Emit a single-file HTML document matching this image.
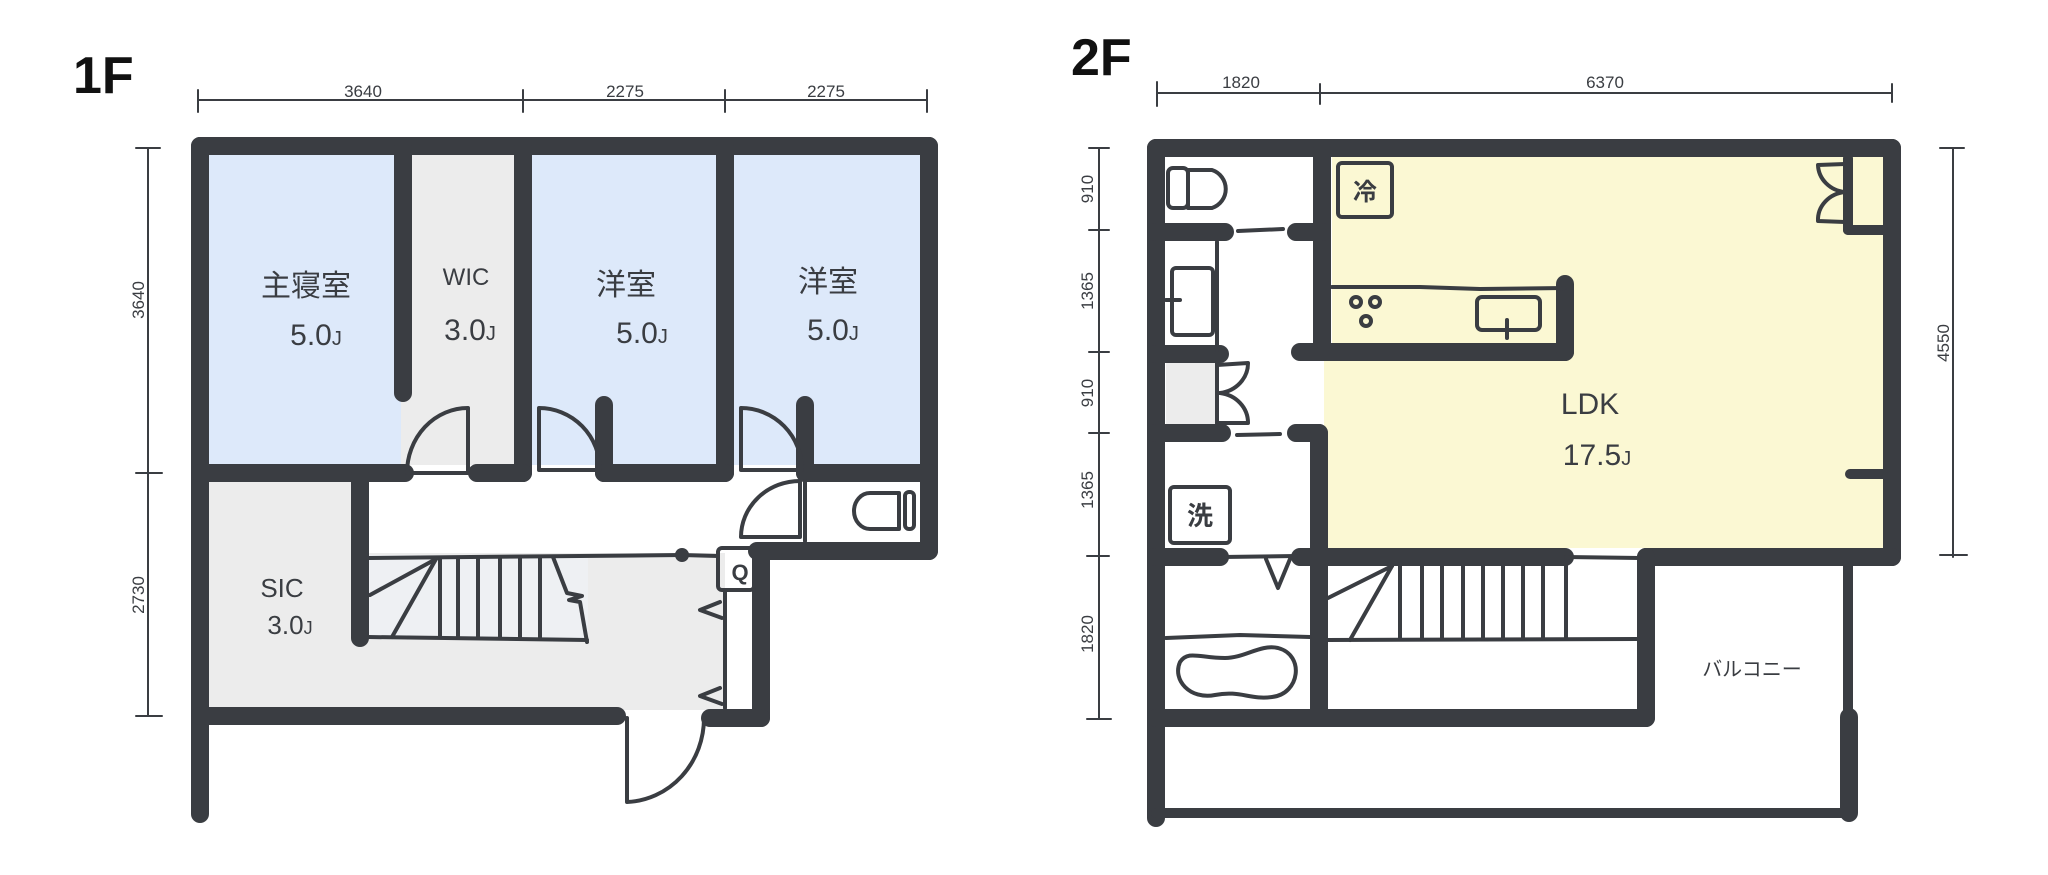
<!DOCTYPE html>
<html><head><meta charset="utf-8"><style>
html,body{margin:0;padding:0;background:#fff;}
svg{display:block;}
text{font-family:"Liberation Sans","Noto Sans CJK JP",sans-serif;fill:#3a3d42;}
</style></head><body>
<svg width="2048" height="875" viewBox="0 0 2048 875" xmlns="http://www.w3.org/2000/svg">
<!-- ===== 1F fills ===== -->
<rect x="209" y="155" width="192" height="310" fill="#dde9fa"/>
<rect x="401" y="155" width="113" height="310" fill="#ececec"/>
<rect x="532" y="155" width="184" height="310" fill="#dde9fa"/>
<rect x="734" y="155" width="186" height="310" fill="#dde9fa"/>
<rect x="209" y="482" width="145" height="228" fill="#ececec"/>
<rect x="354" y="553" width="371" height="157" fill="#ececec"/>
<rect x="368" y="555" width="220" height="84" fill="#eef0f3"/>
<rect x="725" y="598" width="30" height="112" fill="#fff"/>

<g stroke="#3a3d42" fill="none" stroke-linecap="round" stroke-linejoin="round">
<!-- dimension lines 1F -->
<g stroke-width="2">
<line x1="198" y1="100" x2="927" y2="100"/>
<line x1="198" y1="90" x2="198" y2="112"/><line x1="523" y1="90" x2="523" y2="112"/>
<line x1="725" y1="90" x2="725" y2="112"/><line x1="927" y1="90" x2="927" y2="112"/>
<line x1="148" y1="148" x2="148" y2="716"/>
<line x1="136" y1="148" x2="160" y2="148"/><line x1="136" y1="473" x2="162" y2="473"/><line x1="136" y1="716" x2="162" y2="716"/>
</g>
<!-- walls 1F -->
<g stroke-width="18">
<line x1="200" y1="146" x2="929" y2="146"/>
<line x1="200" y1="146" x2="200" y2="814"/>
<line x1="929" y1="146" x2="929" y2="551"/>
<line x1="403" y1="146" x2="403" y2="393"/>
<line x1="523" y1="146" x2="523" y2="473"/>
<line x1="725" y1="146" x2="725" y2="473"/>
<line x1="200" y1="473" x2="405" y2="473"/>
<line x1="477" y1="473" x2="523" y2="473"/>
<line x1="604" y1="405" x2="604" y2="473"/>
<line x1="604" y1="473" x2="725" y2="473"/>
<line x1="805" y1="405" x2="805" y2="473"/>
<line x1="805" y1="473" x2="929" y2="473"/>
<line x1="360" y1="473" x2="360" y2="638"/>
<line x1="757" y1="551" x2="929" y2="551"/>
<line x1="761" y1="551" x2="761" y2="718"/>
<line x1="200" y1="716" x2="617" y2="716"/>
<line x1="710" y1="718" x2="761" y2="718"/>
</g>
<!-- doors 1F -->
<g stroke-width="4">
<path d="M468 408 L468 473 L407 473 A61 65 0 0 1 468 408"/>
<path d="M539 408 L539 470 L600 470 A61 62 0 0 0 539 408"/>
<path d="M741 408 L741 470 L802 470 A61 62 0 0 0 741 408"/>
<path d="M800 481 L800 537 L741 537 A59 56 0 0 1 800 481"/>
<line x1="805" y1="481" x2="805" y2="541"/>
<path d="M627 718 L627 802 A80 84 0 0 0 704 718"/>
<!-- toilet 1F -->
<path d="M899 493 L870 493 A16 18 0 0 0 870 529 L899 529 Z"/>
<rect x="905" y="492" width="9" height="37" rx="4"/>
<!-- stairs 1F -->
<line x1="368" y1="558" x2="682" y2="555"/>
<line x1="682" y1="555" x2="718" y2="556"/>
<line x1="368" y1="637" x2="587" y2="640"/>
<line x1="370" y1="595" x2="436" y2="559"/>
<line x1="392" y1="637" x2="436" y2="559"/>
<line x1="440" y1="559" x2="440" y2="637"/>
<line x1="458" y1="558" x2="458" y2="638"/>
<line x1="478" y1="558" x2="478" y2="638"/>
<line x1="500" y1="558" x2="500" y2="638"/>
<line x1="520" y1="557" x2="520" y2="639"/>
<line x1="540" y1="557" x2="540" y2="639"/>
<path d="M553 557 L567 593 L582 596 L569 600 L580 602 L587 642"/>
<!-- shoe box -->
<rect x="718" y="548" width="36" height="42" rx="4"/>
<line x1="725" y1="590" x2="725" y2="708"/>
<line x1="754" y1="590" x2="754" y2="708"/>
<path d="M720 602 L700 610 L722 618"/>
<path d="M720 688 L700 696 L722 704"/>
</g>
<circle cx="682" cy="555" r="7" fill="#3a3d42" stroke="none"/>
</g>
<text x="740" y="580" font-size="22" font-weight="bold" text-anchor="middle">Q</text>

<!-- 1F labels -->
<text x="73" y="93" font-size="52" font-weight="bold" style="fill:#111">1F</text>
<g font-size="17" text-anchor="middle">
<text x="363" y="97">3640</text><text x="625" y="97">2275</text><text x="826" y="97">2275</text>
<text transform="translate(144,300) rotate(-90)" text-anchor="middle">3640</text>
<text transform="translate(144,595) rotate(-90)" text-anchor="middle">2730</text>
</g>
<g font-size="30" text-anchor="middle">
<text x="306" y="296">主寝室</text><text x="316" y="345">5.0<tspan font-size="20">J</tspan></text>
<text x="466" y="285" font-size="24">WIC</text><text x="470" y="340">3.0<tspan font-size="20">J</tspan></text>
<text x="626" y="295">洋室</text><text x="642" y="343">5.0<tspan font-size="20">J</tspan></text>
<text x="828" y="292">洋室</text><text x="833" y="340">5.0<tspan font-size="20">J</tspan></text>
<text x="282" y="597" font-size="26">SIC</text><text x="290" y="634" font-size="26">3.0<tspan font-size="18">J</tspan></text>
</g>

<!-- ===== 2F fills ===== -->
<rect x="1332" y="157" width="551" height="195" fill="#fbf8d3"/>
<rect x="1324" y="352" width="559" height="196" fill="#fbf8d3"/>
<rect x="1166" y="363" width="50" height="62" fill="#ececec"/>

<g stroke="#3a3d42" fill="none" stroke-linecap="round" stroke-linejoin="round">
<g stroke-width="2">
<line x1="1157" y1="93" x2="1892" y2="93"/>
<line x1="1157" y1="82" x2="1157" y2="106"/><line x1="1320" y1="84" x2="1320" y2="104"/><line x1="1892" y1="84" x2="1892" y2="102"/>
<line x1="1099" y1="148" x2="1099" y2="719"/>
<line x1="1089" y1="148" x2="1109" y2="148"/><line x1="1089" y1="230" x2="1109" y2="230"/>
<line x1="1089" y1="352" x2="1109" y2="352"/><line x1="1089" y1="433" x2="1109" y2="433"/>
<line x1="1087" y1="556" x2="1109" y2="556"/><line x1="1087" y1="719" x2="1111" y2="719"/>
<line x1="1953" y1="148" x2="1953" y2="557"/>
<line x1="1940" y1="148" x2="1964" y2="148"/><line x1="1940" y1="555" x2="1967" y2="555"/>
</g>
<g stroke-width="18">
<line x1="1156" y1="148" x2="1892" y2="148"/>
<line x1="1156" y1="148" x2="1156" y2="818"/>
<line x1="1892" y1="148" x2="1892" y2="557"/>
<line x1="1322" y1="148" x2="1322" y2="352"/>
<line x1="1156" y1="232" x2="1225" y2="232"/>
<line x1="1296" y1="232" x2="1322" y2="232"/>
<line x1="1156" y1="354" x2="1220" y2="354"/>
<line x1="1300" y1="352" x2="1565" y2="352"/>
<line x1="1565" y1="284" x2="1565" y2="352"/>
<line x1="1156" y1="433" x2="1222" y2="433"/>
<line x1="1296" y1="433" x2="1319" y2="433"/>
<line x1="1319" y1="433" x2="1319" y2="718"/>
<line x1="1156" y1="557" x2="1220" y2="557"/>
<line x1="1300" y1="557" x2="1565" y2="557"/>
<line x1="1646" y1="557" x2="1892" y2="557"/>
<line x1="1646" y1="557" x2="1646" y2="718"/>
<line x1="1156" y1="718" x2="1646" y2="718"/>
<line x1="1849" y1="717" x2="1849" y2="813"/>
</g>
<g stroke-width="10">
<line x1="1156" y1="813" x2="1849" y2="813"/>
<line x1="1848" y1="566" x2="1848" y2="720"/>
<line x1="1850" y1="474" x2="1883" y2="474"/>
<line x1="1848" y1="230" x2="1883" y2="230"/>
<line x1="1848" y1="158" x2="1848" y2="230"/>
</g>
<g stroke-width="4">
<!-- dashes -->
<line x1="1238" y1="231" x2="1283" y2="229"/>
<line x1="1237" y1="435" x2="1280" y2="434"/>
<line x1="1222" y1="557" x2="1296" y2="556"/>
<path d="M1266 559 L1278 588 L1290 559"/>
<!-- toilet 2F -->
<rect x="1168" y="168" width="20" height="40" rx="5"/>
<path d="M1188 170 L1212 170 A20 20 0 0 1 1212 208 L1188 208 Z"/>
<!-- fridge -->
<rect x="1338" y="163" width="54" height="54" rx="4"/>
<!-- washroom vanity -->
<line x1="1217" y1="242" x2="1217" y2="350"/>
<rect x="1172" y="268" width="41" height="67" rx="4"/>
<line x1="1166" y1="300" x2="1180" y2="300"/>
<!-- storage doors -->
<line x1="1217" y1="363" x2="1217" y2="423"/>
<path d="M1217 365 L1248 363 A32 30 0 0 1 1220 393"/>
<path d="M1220 393 A32 30 0 0 1 1248 423 L1217 423"/>
<!-- closet doors LDK -->
<path d="M1845 164 L1818 165 A30 28 0 0 0 1845 192"/>
<path d="M1845 192 A30 28 0 0 0 1818 221 L1845 222"/>
<!-- kitchen -->
<path d="M1332 287 L1420 287 L1480 289 L1565 288"/>
<circle cx="1356" cy="302" r="5"/><circle cx="1375" cy="302" r="5"/><circle cx="1366" cy="321" r="5"/>
<rect x="1477" y="297" width="63" height="33" rx="5"/>
<line x1="1507" y1="320" x2="1507" y2="338"/>
<!-- washing machine -->
<rect x="1170" y="487" width="60" height="56" rx="4"/>
<!-- stairs 2F -->
<line x1="1328" y1="640" x2="1637" y2="639"/>
<line x1="1328" y1="598" x2="1392" y2="566"/>
<line x1="1350" y1="640" x2="1392" y2="566"/>
<line x1="1400" y1="566" x2="1400" y2="639"/>
<line x1="1422" y1="566" x2="1422" y2="639"/>
<line x1="1442" y1="566" x2="1442" y2="639"/>
<line x1="1463" y1="566" x2="1463" y2="639"/>
<line x1="1483" y1="566" x2="1483" y2="639"/>
<line x1="1503" y1="566" x2="1503" y2="639"/>
<line x1="1523" y1="566" x2="1523" y2="639"/>
<line x1="1543" y1="566" x2="1543" y2="639"/>
<line x1="1566" y1="557" x2="1566" y2="639"/>
<line x1="1566" y1="557" x2="1640" y2="558"/>
<!-- bath -->
<path d="M1166 638 L1240 635 L1310 637"/>
<path d="M1180 662 C1172 680 1190 700 1215 695 C1240 690 1250 700 1272 697 C1300 694 1305 655 1278 648 C1260 644 1245 658 1225 658 C1200 658 1188 650 1180 662 Z"/>
</g>
</g>
<text x="1365" y="200" font-size="24" text-anchor="middle" font-weight="bold">冷</text>
<text x="1200" y="525" font-size="26" text-anchor="middle" font-weight="bold">洗</text>

<!-- 2F labels -->
<text x="1071" y="75" font-size="52" font-weight="bold" style="fill:#111">2F</text>
<g font-size="17" text-anchor="middle">
<text x="1241" y="88">1820</text><text x="1605" y="88">6370</text>
<text transform="translate(1093,189) rotate(-90)">910</text>
<text transform="translate(1093,291) rotate(-90)">1365</text>
<text transform="translate(1093,393) rotate(-90)">910</text>
<text transform="translate(1093,490) rotate(-90)">1365</text>
<text transform="translate(1093,634) rotate(-90)">1820</text>
<text transform="translate(1949,343) rotate(-90)">4550</text>
</g>
<text x="1590" y="414" font-size="30" text-anchor="middle">LDK</text>
<text x="1597" y="465" font-size="30" text-anchor="middle">17.5<tspan font-size="20">J</tspan></text>
<text x="1752" y="676" font-size="20" text-anchor="middle">バルコニー</text>
</svg>
</body></html>
